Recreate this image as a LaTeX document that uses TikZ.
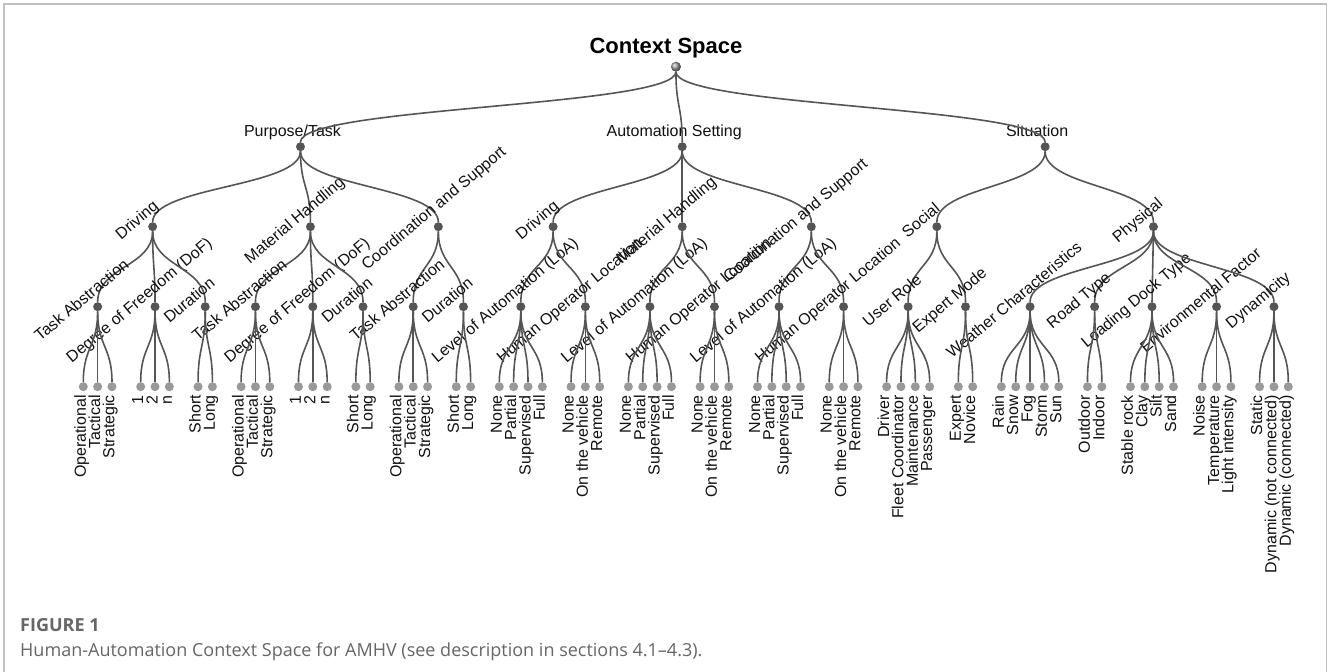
\documentclass[tikz,border=0pt]{standalone}
\usepackage{fontspec}
\setmainfont{Liberation Sans}
\newfontfamily\capfont{Open Sans}
\usetikzlibrary{calc}
\definecolor{linkc}{HTML}{555555}
\definecolor{dotdark}{HTML}{555555}
\definecolor{dotlight}{HTML}{999999}
\definecolor{labc}{HTML}{111111}
\definecolor{framec}{HTML}{C0C0C0}
\definecolor{capc}{HTML}{666666}
\newcommand\labfont{\fontsize{16}{19}\selectfont}
\tikzset{
  idot/.style={circle, fill=dotdark, inner sep=0pt, minimum size=9pt},
  ldot/.style={circle, fill=dotlight, inner sep=0pt, minimum size=9pt},
  rootdot/.style={circle, shading=ball, ball color=black!40, inner sep=0pt, minimum size=10pt},
  link/.style={draw=linkc, line width=1.6pt},
  lab/.style={font=\labfont, text=labc, inner sep=0pt},
  hlab/.style={lab, anchor=base},
  rlab/.style={lab, rotate=40, anchor=base},
  leaflab/.style={lab, rotate=90, anchor=base east},
  captxt/.style={anchor=base west, inner sep=0pt, text=capc},
}
\begin{document}
\begin{tikzpicture}
\fill[white] (0pt,0pt) rectangle (1328pt,672pt);
\useasboundingbox (0pt,0pt) rectangle (1328pt,672pt);
\draw[framec, line width=1.5pt] (4pt,-20pt) rectangle (1326.5pt,668pt);
\begin{scope}[shift={(83.3pt,0pt)}, x=14.345pt, y=1pt]
  % root
  \node[rootdot] (root) at (41.313,605.3) {};
  \node[font=\fontsize{22}{26}\selectfont\bfseries, anchor=base, inner sep=0pt] (title) at ($(root)+(-10pt,13pt)$) {Context Space};
  % level 1
  \node[idot] (pt) at (15.1389,525.3) {};
  \node[idot] (as) at (41.75,525.3) {};
  \node[idot] (sit) at (67.05,525.3) {};
  \node[hlab] (pt-l) at ($(pt)+(-8pt,10pt)$) {Purpose/Task};
  \node[hlab] (as-l) at ($(as)+(-8pt,10pt)$) {Automation Setting};
  \node[hlab] (sit-l) at ($(sit)+(-8pt,10pt)$) {Situation};
  \foreach \n in {pt,as,sit}
    \draw[link] (root) .. controls ([yshift=-40pt]root.center) and ([yshift=40pt]\n.center) .. (\n);
  % level 2
  \foreach \n/\x/\p/\dx/\dy/\t in {
      ptd/4.8333/pt/-12.56/2.52/Driving,
      ptm/15.8333/pt/-12.56/2.52/Material Handling,
      ptc/24.75/pt/-1.4/14.8/Coordination and Support,
      asd/32.75/as/-12.56/2.52/Driving,
      asm/41.75/as/-12.56/2.52/Material Handling,
      asc/50.75/as/-12.56/2.52/Coordination and Support,
      soc/59.5/sit/-12.56/2.52/Social,
      phy/74.6/sit/-12.56/2.52/Physical}{
    \node[idot] (\n) at (\x,445.3) {};
    \draw[link] (\p) .. controls ([yshift=-40pt]\p.center) and ([yshift=40pt]\n.center) .. (\n);
    \node[rlab] (\n-l) at ($(\n)+(\dx pt,\dy pt)$) {\t};
  }
  % level 3
  \foreach \n/\x/\p/\t in {
      ptdt/1/ptd/Task Abstraction,
      ptdd/5/ptd/Degree of Freedom (DoF),
      ptdu/8.5/ptd/Duration,
      ptmt/12/ptm/Task Abstraction,
      ptmd/16/ptm/Degree of Freedom (DoF),
      ptmu/19.5/ptm/Duration,
      ptct/23/ptc/Task Abstraction,
      ptcu/26.5/ptc/Duration,
      asdl/30.5/asd/Level of Automation (LoA),
      asdh/35/asd/Human Operator Location,
      asml/39.5/asm/Level of Automation (LoA),
      asmh/44/asm/Human Operator Location,
      ascl/48.5/asc/Level of Automation (LoA),
      asch/53/asc/Human Operator Location,
      socu/57.5/soc/User Role,
      soce/61.5/soc/Expert Mode,
      phyw/66/phy/Weather Characteristics,
      phyr/70.5/phy/Road Type,
      phyl/74.5/phy/Loading Dock Type,
      phye/79/phy/Environmental Factor,
      phyd/83/phy/Dynamicity}{
    \node[idot] (\n) at (\x,365.3) {};
    \draw[link] (\p) .. controls ([yshift=-40pt]\p.center) and ([yshift=40pt]\n.center) .. (\n);
    \node[rlab] (\n-l) at ($(\n)+(-12.56pt,2.52pt)$) {\t};
  }
  % leaves
  \foreach \p/\s/\L in {
      ptdt/0/{Operational,Tactical,Strategic},
      ptdd/4/{1,2,n},
      ptdu/8/{Short,Long},
      ptmt/11/{Operational,Tactical,Strategic},
      ptmd/15/{1,2,n},
      ptmu/19/{Short,Long},
      ptct/22/{Operational,Tactical,Strategic},
      ptcu/26/{Short,Long},
      asdl/29/{None,Partial,Supervised,Full},
      asdh/34/{None,On the vehicle,Remote},
      asml/38/{None,Partial,Supervised,Full},
      asmh/43/{None,On the vehicle,Remote},
      ascl/47/{None,Partial,Supervised,Full},
      asch/52/{None,On the vehicle,Remote},
      socu/56/{Driver,Fleet Coordinator,Maintenance,Passenger},
      soce/61/{Expert,Novice},
      phyw/64/{Rain,Snow,Fog,Storm,Sun},
      phyr/70/{Outdoor,Indoor},
      phyl/73/{Stable rock,Clay,Silt,Sand},
      phye/78/{Noise,Temperature,Light intensity},
      phyd/82/{Static,Dynamic (not connected),Dynamic (connected)}}{
    \foreach \t [count=\i from 0] in \L {
      \node[ldot] (\p-\i) at ({\s+\i},285.3) {};
      \draw[link] (\p) .. controls ([yshift=-40pt]\p.center) and ([yshift=40pt]\p-\i.center) .. (\p-\i);
      \node[leaflab] (\p-\i-l) at ($(\p-\i)+(2.5pt,-8.3pt)$) {\t};
    }
  }
\end{scope}
% caption
\node[captxt, font=\capfont\bfseries\fontsize{18}{22}\selectfont] (fig) at (20pt,40pt) {FIGURE 1};
\node[captxt, font=\capfont\fontsize{18}{22}\selectfont] (cap) at (20pt,15pt) {Human-Automation Context Space for AMHV (see description in sections 4.1–4.3).};
\end{tikzpicture}
\end{document}
